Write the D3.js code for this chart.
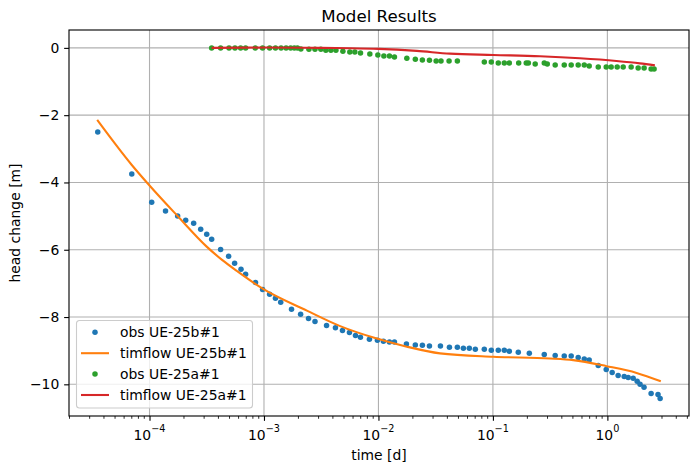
<!DOCTYPE html>
<html>
<head>
<meta charset="utf-8">
<script src="https://cdn.jsdelivr.net/npm/d3@7"></script>
<style>
  body { margin: 0; background: #fff; }
  text { font-family: "DejaVu Sans", sans-serif; fill: #000; }
</style>
</head>
<body>
<div id="chart"></div>
<script>
// observed drawdown UE-25b#1
var obsBTime = [3.53e-5, 7.0e-5, 1.045e-4, 1.38e-4, 1.76e-4, 2.07e-4, 2.43e-4, 2.80e-4, 3.16e-4, 3.49e-4,
  4.18e-4, 4.91e-4, 5.54e-4, 6.30e-4, 6.91e-4, 8.43e-4, 9.72e-4, 1.12e-3, 1.26e-3, 1.40e-3,
  1.74e-3, 2.09e-3, 2.45e-3, 2.79e-3, 3.52e-3, 4.21e-3, 4.85e-3, 5.58e-3, 6.30e-3, 6.96e-3,
  8.34e-3, 9.79e-3, 1.105e-2, 1.248e-2, 1.38e-2, 1.755e-2, 2.10e-2, 2.42e-2, 2.79e-2, 3.48e-2,
  4.17e-2, 4.89e-2, 5.52e-2, 6.22e-2, 7.02e-2, 8.41e-2, 9.68e-2, 0.1114, 0.1257, 0.139,
  0.1666, 0.208, 0.281, 0.350, 0.420, 0.483, 0.556, 0.628, 0.694, 0.832,
  0.977, 1.101, 1.242, 1.402, 1.52, 1.68, 1.82, 1.93, 2.09, 2.41, 2.77, 2.89];
var obsBHead = [-2.50, -3.75, -4.59, -4.85, -5.00, -5.12, -5.21, -5.39, -5.54, -5.69,
  -5.99, -6.19, -6.40, -6.58, -6.73, -6.97, -7.18, -7.32, -7.44, -7.56,
  -7.77, -7.92, -8.04, -8.13, -8.25, -8.32, -8.40, -8.46, -8.55, -8.60,
  -8.66, -8.69, -8.72, -8.74, -8.74, -8.80, -8.83, -8.84, -8.86, -8.86,
  -8.90, -8.90, -8.93, -8.93, -8.96, -8.96, -8.99, -8.99, -8.99, -9.02,
  -9.05, -9.08, -9.11, -9.14, -9.16, -9.16, -9.20, -9.25, -9.28, -9.44,
  -9.56, -9.65, -9.74, -9.77, -9.80, -9.82, -9.91, -10.00, -10.09, -10.27, -10.30, -10.42];

// timflow model UE-25b#1
var modBTime = [3.49e-5, 7.0e-5, 1.0e-4, 1.75e-4, 3.14e-4, 4.33e-4, 5.85e-4, 9.66e-4, 2.37e-3, 4.63e-3,
  9.04e-3, 1.77e-2, 3.45e-2, 0.1007, 0.315, 0.503, 0.984, 1.80, 2.93];
var modBHead = [-2.14, -3.48, -4.09, -4.99, -5.90, -6.31, -6.64, -7.15, -7.81, -8.27,
  -8.61, -8.88, -9.08, -9.18, -9.23, -9.28, -9.46, -9.66, -9.91];

// observed drawdown UE-25a#1
var obsATime = [3.49e-4, 4.18e-4, 4.95e-4, 5.58e-4, 6.25e-4, 6.91e-4, 8.39e-4, 9.72e-4, 1.12e-3, 1.26e-3,
  1.41e-3, 1.56e-3, 1.71e-3, 1.84e-3, 1.96e-3, 2.10e-3, 2.47e-3, 2.79e-3, 3.14e-3, 3.47e-3,
  3.84e-3, 4.25e-3, 4.89e-3, 5.62e-3, 6.22e-3, 6.97e-3, 8.41e-3, 9.88e-3, 1.115e-2, 1.247e-2,
  1.38e-2, 1.77e-2, 2.10e-2, 2.42e-2, 2.79e-2, 3.19e-2, 3.52e-2, 4.14e-2, 4.89e-2, 8.41e-2,
  9.68e-2, 0.1114, 0.1257, 0.139, 0.168, 0.1955, 0.204, 0.234, 0.281, 0.2985,
  0.350, 0.420, 0.483, 0.556, 0.628, 0.694, 0.832, 0.977, 1.079, 1.218,
  1.374, 1.613, 1.857, 2.094, 2.41, 2.56];
var obsAHead = [0, 0, 0, 0, 0, 0, 0, 0, 0, 0,
  0, 0, 0, 0, 0, -0.03, -0.04, -0.04, -0.04, -0.07,
  -0.07, -0.07, -0.10, -0.12, -0.12, -0.15, -0.18, -0.21, -0.24, -0.24,
  -0.27, -0.31, -0.34, -0.36, -0.37, -0.39, -0.39, -0.39, -0.39, -0.42,
  -0.42, -0.45, -0.45, -0.45, -0.45, -0.45, -0.45, -0.48, -0.45, -0.48,
  -0.51, -0.51, -0.51, -0.51, -0.51, -0.54, -0.57, -0.57, -0.57, -0.57,
  -0.57, -0.57, -0.60, -0.60, -0.63, -0.63];

// timflow model UE-25a#1
var modATime = [3.49e-4, 1.06e-3, 3.10e-3, 5.6e-3, 1.0e-2, 2.16e-2, 4.22e-2, 0.1007, 0.2576, 0.575, 1.20, 1.92, 2.60];
var modAHead = [0.0, 0.01, 0.0, -0.01, -0.03, -0.09, -0.17, -0.21, -0.25, -0.31, -0.39, -0.46, -0.52];

var xTicks = [1e-4, 1e-3, 1e-2, 1e-1, 1];
var yTicks = [0, -2, -4, -6, -8, -10];

var legendLabels = ["obs UE-25b#1", "timflow UE-25b#1", "obs UE-25a#1", "timflow UE-25a#1"];
var seriesColors = ["#1f77b4", "#ff7f0e", "#2ca02c", "#d62728"];

var width = 698, height = 473,
    margin = {top: 30, right: 9, bottom: 57, left: 69};
var w = width - margin.left - margin.right,
    h = height - margin.top - margin.bottom;

function zip(a, b) { return a.map(function(v, i) { return [v, b[i]]; }); }

var series = [
  {type: "dot",  data: zip(obsBTime, obsBHead)},
  {type: "line", data: zip(modBTime, modBHead)},
  {type: "dot",  data: zip(obsATime, obsAHead)},
  {type: "line", data: zip(modATime, modAHead)}
];

// matplotlib style 5% margins
var allT = [].concat(obsBTime, modBTime, obsATime, modATime),
    allH = [].concat(obsBHead, modBHead, obsAHead, modAHead);
var lx0 = Math.log10(d3.min(allT)), lx1 = Math.log10(d3.max(allT)), lpad = (lx1 - lx0) * 0.05;
var hy0 = d3.min(allH), hy1 = d3.max(allH), hpad = (hy1 - hy0) * 0.05;

var xScale = d3.scaleLog().domain([Math.pow(10, lx0 - lpad), Math.pow(10, lx1 + lpad)]).range([0, w]);
var yScale = d3.scaleLinear().domain([hy0 - hpad, hy1 + hpad]).range([h, 0]);

var svg = d3.select("#chart").append("svg")
    .attr("width", width)
    .attr("height", height);

var g = svg.append("g")
    .attr("transform", "translate(" + margin.left + "," + margin.top + ")");

// grid
g.append("g").selectAll("line")
  .data(xTicks).enter().append("line")
    .attr("x1", function(d) { return xScale(d); })
    .attr("x2", function(d) { return xScale(d); })
    .attr("y1", 0).attr("y2", h)
    .style("stroke", "#b0b0b0").style("stroke-width", 1.1);

g.append("g").selectAll("line")
  .data(yTicks).enter().append("line")
    .attr("y1", function(d) { return yScale(d); })
    .attr("y2", function(d) { return yScale(d); })
    .attr("x1", 0).attr("x2", w)
    .style("stroke", "#b0b0b0").style("stroke-width", 1.1);

// data
var line = d3.line()
    .x(function(d) { return xScale(d[0]); })
    .y(function(d) { return yScale(d[1]); })
    .curve(d3.curveMonotoneX);

series.forEach(function(s, i) {
  if (s.type == "line") {
    g.append("path")
      .datum(s.data)
      .attr("d", line)
      .style("fill", "none")
      .style("stroke", seriesColors[i])
      .style("stroke-width", 2.08);
  } else {
    g.append("g").selectAll("circle")
      .data(s.data).enter().append("circle")
        .attr("cx", function(d) { return xScale(d[0]); })
        .attr("cy", function(d) { return yScale(d[1]); })
        .attr("r", 2.75)
        .style("fill", seriesColors[i]);
  }
});

// axes
var xAxis = d3.axisBottom(xScale)
    .tickValues(xTicks)
    .tickSize(4.86).tickPadding(4.86)
    .tickFormat("");
var xAxisG = g.append("g")
    .attr("transform", "translate(0," + h + ")")
    .call(xAxis);

// minor ticks on log axis
var minor = [];
var dom = xScale.domain();
for (var e = Math.floor(Math.log10(dom[0])); e <= Math.ceil(Math.log10(dom[1])); e++) {
  for (var m = 2; m < 10; m++) {
    var v = m * Math.pow(10, e);
    if (v >= dom[0] && v <= dom[1]) minor.push(v);
  }
}
xAxisG.selectAll(".minor")
  .data(minor).enter().append("line")
    .attr("class", "minor")
    .attr("x1", function(d) { return xScale(d); })
    .attr("x2", function(d) { return xScale(d); })
    .attr("y1", 0).attr("y2", 2.78)
    .style("stroke", "#000").style("stroke-width", 0.83);

// 10^n labels
var lbl = xAxisG.selectAll(".xlbl")
  .data(xTicks).enter().append("text")
    .attr("class", "xlbl")
    .attr("x", function(d) { return xScale(d); })
    .attr("y", 23.5)
    .attr("text-anchor", "middle")
    .style("font-size", "13.9px");
lbl.append("tspan").text("10");
lbl.append("tspan")
    .attr("dy", -7.5)
    .style("font-size", "9.7px")
    .text(function(d) { var p = Math.round(Math.log10(d)); return p < 0 ? "\u2212" + (-p) : "" + p; });

var yAxis = d3.axisLeft(yScale)
    .tickValues(yTicks)
    .tickSize(4.86).tickPadding(4.86)
    .tickFormat(function(d) { return d < 0 ? "\u2212" + (-d) : "" + d; });
g.append("g").call(yAxis)
  .selectAll("text")
    .style("font-size", "13.9px")
    .style("font-family", "DejaVu Sans, sans-serif");

g.selectAll(".domain").remove();
g.selectAll(".tick line").style("stroke", "#000").style("stroke-width", 1.11);

// frame
g.append("rect")
    .attr("width", w).attr("height", h)
    .style("fill", "none")
    .style("stroke", "#000")
    .style("stroke-width", 1.11);

// legend
var legend = g.append("g")
    .attr("transform", "translate(7.5,290.5)");
legend.append("rect")
    .attr("width", 176).attr("height", 87.5)
    .attr("rx", 3).attr("ry", 3)
    .style("fill", "#fff").style("fill-opacity", 0.8)
    .style("stroke", "#cccccc").style("stroke-width", 1.1);

var items = legend.selectAll(".item")
  .data(legendLabels).enter().append("g")
    .attr("class", "item")
    .attr("transform", function(d, i) { return "translate(0," + (11.8 + i * 20.9) + ")"; });

items.each(function(d, i) {
  var it = d3.select(this);
  if (series[i].type == "dot") {
    it.append("circle").attr("cx", 18.5).attr("r", 2.75).style("fill", seriesColors[i]);
  } else {
    it.append("line").attr("x1", 4.5).attr("x2", 32.5)
      .style("stroke", seriesColors[i]).style("stroke-width", 2.08);
  }
});
items.append("text")
    .attr("x", 43.5)
    .attr("dy", "0.36em")
    .style("font-size", "13.9px")
    .text(function(d) { return d; });

// labels
svg.append("text")
    .attr("x", margin.left + w / 2)
    .attr("y", 21.7)
    .attr("text-anchor", "middle")
    .style("font-size", "16.67px")
    .text("Model Results");

svg.append("text")
    .attr("x", margin.left + w / 2)
    .attr("y", 459.5)
    .attr("text-anchor", "middle")
    .style("font-size", "13.9px")
    .text("time [d]");

svg.append("text")
    .attr("transform", "translate(19.5," + (margin.top + h / 2) + ") rotate(-90)")
    .attr("text-anchor", "middle")
    .style("font-size", "13.9px")
    .text("head change [m]");
</script>
</body>
</html>
